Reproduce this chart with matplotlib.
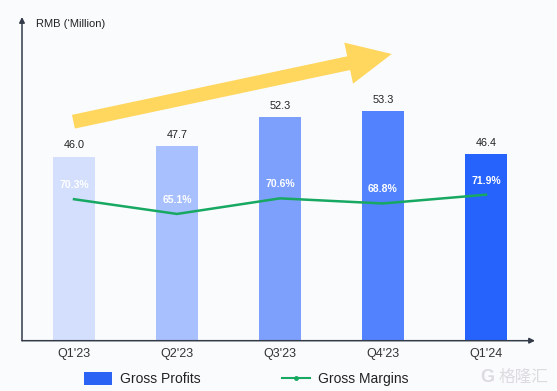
import matplotlib
matplotlib.use("Agg")
import matplotlib.pyplot as plt
from matplotlib.patches import FancyArrow, Patch
from matplotlib.lines import Line2D

plt.rcParams['font.family'] = ['Liberation Sans', 'DejaVu Sans']

quarters = ["Q1'23", "Q2'23", "Q3'23", "Q4'23", "Q1'24"]
gross_profits = [46.0, 47.7, 52.3, 53.3, 46.4]
gross_margins = [70.3, 65.1, 70.6, 68.8, 71.9]
profit_labels = ["46.0", "47.7", "52.3", "53.3", "46.4"]
margin_labels = ["70.3%", "65.1%", "70.6%", "68.8%", "71.9%"]
bar_colors = ['#D3DFFD', '#A8C0FE', '#7DA0FC', '#5282FD', '#2563FC']

W, H = 557, 391
bg = '#FAFBFD'
fig = plt.figure(figsize=(W / 100, H / 100), dpi=100, facecolor=bg)

left, right, bottom, top = 22, 535, 340.7, 17
ax = fig.add_axes([left / W, (H - bottom) / H, (right - left) / W, (bottom - top) / H])
ax.set_facecolor(bg)
ax2 = ax.twinx()

x = list(range(len(quarters)))
ax.bar(x, gross_profits, width=0.408, color=bar_colors, zorder=2)
ax.set_xlim(-0.505, 4.476)
ax.set_ylim(16.7, 68.2)

for xi, v, lab in zip(x, gross_profits, profit_labels):
    ax.annotate(lab, (xi, v), xytext=(0, 8), textcoords='offset points',
                ha='center', va='center', fontsize=7.8, color='#222222')

ax2.plot(x, gross_margins, color='#17A862', lw=1.8, zorder=3)
ax2.set_ylim(20.3, 134.7)
for xi, m, lab in zip(x, gross_margins, margin_labels):
    ax2.annotate(lab, (xi, m), xytext=(0, 10.1), textcoords='offset points',
                 ha='center', va='center', fontsize=7.5, color='white',
                 fontweight='bold')

for a in (ax, ax2):
    for s in a.spines.values():
        s.set_visible(False)
ax2.set_yticks([])
ax.set_yticks([])
ax.set_xticks(x)
ax.set_xticklabels(quarters, fontsize=9, color='#333333')
ax.tick_params(axis='x', length=0, pad=5)

axis_col = '#333B48'
ax.annotate('', xy=(1.0, 0), xytext=(0, 0), xycoords='axes fraction',
            arrowprops=dict(arrowstyle='-|>', color=axis_col, lw=1.1,
                            mutation_scale=8, shrinkA=0, shrinkB=0))
ax.annotate('', xy=(0, 1.0), xytext=(0, 0), xycoords='axes fraction',
            arrowprops=dict(arrowstyle='-|>', color=axis_col, lw=1.1,
                            mutation_scale=8, shrinkA=0, shrinkB=0))

fig.text(35.7 / W, (H - 24) / H, 'RMB (\u2018Million)', fontsize=8,
         color='#222222', ha='left', va='center')

# decorative yellow trend arrow (pixel-based, in inches)
sx, sy = 73.4, 121.7
tx, ty = 391.7, 54.0
arrow = FancyArrow(sx / 100, (H - sy) / 100, (tx - sx) / 100, (sy - ty) / 100,
                   width=0.14, head_width=0.42, head_length=0.44,
                   length_includes_head=True, color='#FFD75E', lw=0,
                   transform=fig.dpi_scale_trans)
fig.patches.append(arrow)

handles = [Patch(facecolor='#2B63F5', edgecolor='none'),
           Line2D([], [], color='#17A862', lw=1.5, marker='o', markersize=2.5)]
fig.legend(handles, ['Gross Profits', 'Gross Margins'], ncol=2, frameon=False,
           loc='center left', bbox_to_anchor=(84 / W, (H - 379) / H),
           borderaxespad=0, borderpad=0, fontsize=10, handlelength=2.0,
           handleheight=1.1, handletextpad=0.58, columnspacing=5.9,
           labelcolor='#222222')

# watermark
fig.text(523 / W, (H - 377) / H, '格隆汇', fontsize=12, color='#DCDCE0',
         family=['Noto Sans CJK SC', 'DejaVu Sans'], ha='center', va='center')
fig.text(487 / W, (H - 377) / H, 'G', fontsize=13, color='#DCDCE0',
         fontweight='bold', ha='center', va='center')

fig.savefig('out.png', dpi=100, facecolor=bg)
